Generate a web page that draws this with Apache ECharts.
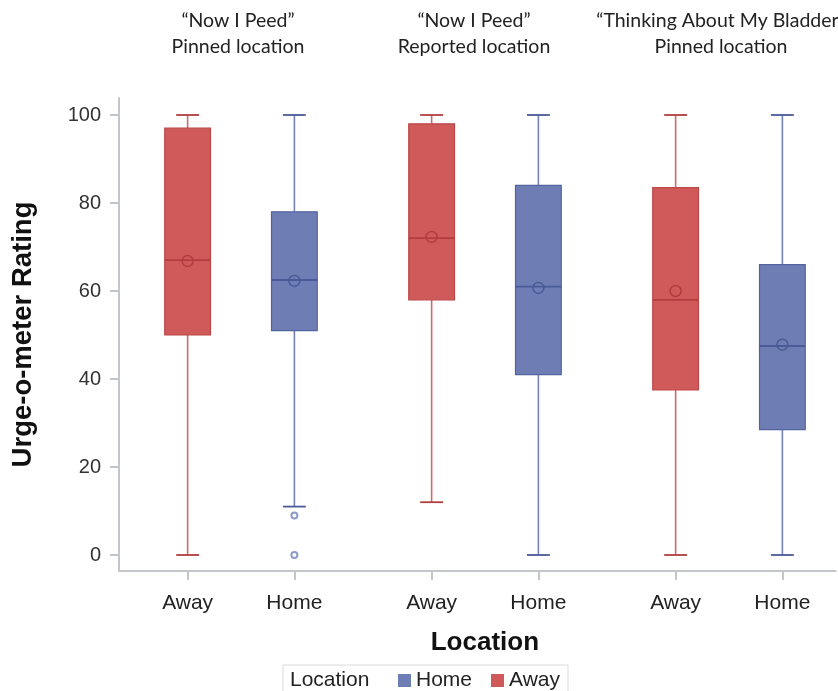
<!DOCTYPE html>
<html><head><meta charset="utf-8">
<script src="https://cdn.jsdelivr.net/npm/echarts@6/dist/echarts.min.js"></script>
<style>html,body{margin:0;padding:0;background:#fff}#c{width:838px;height:691px}</style>
</head><body><div id="c"></div>
<script>
// ---------------- data ----------------
const categories = ['Away', 'Home', 'Away', 'Home', 'Away', 'Home'];
const locations = ['Away', 'Home', 'Away', 'Home', 'Away', 'Home'];
const groupLine1 = ['\u201CNow I Peed\u201D', '\u201CNow I Peed\u201D', '\u201CThinking About My Bladder\u201D'];
const groupLine2 = ['Pinned location', 'Reported location', 'Pinned location'];
const mins = [0, 11, 12, 0, 0, 0];
const q1s = [50, 51, 58, 41, 37.5, 28.5];
const medians = [67, 62.5, 72, 61, 58, 47.5];
const q3s = [97, 78, 98, 84, 83.5, 66];
const maxs = [100, 100, 100, 100, 100, 100];
const means = [66.8, 62.3, 72.3, 60.7, 60, 47.8];
const outlierBox = [1, 1];
const outlierValues = [9, 0];
const yTicks = [0, 20, 40, 60, 80, 100];
const legendNames = ['Home', 'Away'];

// ---------------- layout (not data) ----------------
const SLOTS = 47;
const boxSlots = [4, 11, 20, 27, 36, 43];
const headerX = [238, 474, 721];
const slotNames = Array.from({length: SLOTS}, (_, i) => 's' + i);
const slotLabel = {};
boxSlots.forEach((s, i) => { slotLabel[s] = categories[i]; });

const styles = {
  Away: {fill: '#D05A5A', border: '#BC4747', whisker: '#CF6A6A', median: '#B03E3E'},
  Home: {fill: '#6E7EB4', border: '#53639E', whisker: '#7282BC', median: '#4A5A96'}
};
const AXIS = '#C3C6CA';
const FONT = 'Liberation Sans, Arial, sans-serif';

function boxData(loc) {
  const out = [];
  locations.forEach((l, i) => {
    if (l === loc) out.push([boxSlots[i], mins[i], q1s[i], medians[i], q3s[i], maxs[i], means[i]]);
  });
  return out;
}

function makeRender(loc) {
  const st = styles[loc];
  return function (params, api) {
    const x = api.value(0);
    const pMin = api.coord([x, api.value(1)]);
    const pQ1 = api.coord([x, api.value(2)]);
    const pMed = api.coord([x, api.value(3)]);
    const pQ3 = api.coord([x, api.value(4)]);
    const pMax = api.coord([x, api.value(5)]);
    const pMean = api.coord([x, api.value(6)]);
    const w = api.size([1, 0])[0] * 3;
    const half = w / 2, cap = w / 4;
    const cx = pMed[0];
    const wStyle = {stroke: st.whisker, lineWidth: 1.6};
    return {
      type: 'group',
      children: [
        {type: 'line', shape: {x1: cx, y1: pMax[1], x2: cx, y2: pQ3[1]}, style: wStyle},
        {type: 'line', shape: {x1: cx, y1: pMin[1], x2: cx, y2: pQ1[1]}, style: wStyle},
        {type: 'line', shape: {x1: cx - cap, y1: pMax[1], x2: cx + cap, y2: pMax[1]}, style: {stroke: st.median, lineWidth: 1.8}},
        {type: 'line', shape: {x1: cx - cap, y1: pMin[1], x2: cx + cap, y2: pMin[1]}, style: {stroke: st.median, lineWidth: 1.8}},
        {type: 'rect', shape: {x: cx - half, y: pQ3[1], width: w, height: pQ1[1] - pQ3[1]},
          style: {fill: st.fill, stroke: st.border, lineWidth: 1.2}},
        {type: 'line', shape: {x1: cx - half, y1: pMed[1], x2: cx + half, y2: pMed[1]}, style: {stroke: st.median, lineWidth: 1.8}},
        {type: 'circle', shape: {cx: cx, cy: pMean[1], r: 5.5}, style: {fill: 'none', stroke: st.median, lineWidth: 1.5}}
      ]
    };
  };
}

const chart = echarts.init(document.getElementById('c'), null, {renderer: 'canvas'});

const graphics = [];
groupLine1.forEach((t, i) => {
  graphics.push({type: 'text', x: headerX[i], y: 21, style: {text: t, fill: '#222', font: '19.5px Lato, sans-serif', textAlign: 'center', textVerticalAlign: 'middle'}});
  graphics.push({type: 'text', x: headerX[i], y: 47, style: {text: groupLine2[i], fill: '#222', font: '19.5px Lato, sans-serif', textAlign: 'center', textVerticalAlign: 'middle'}});
});
graphics.push({type: 'text', x: 290, y: 680, style: {text: 'Location', fill: '#222', font: '21px ' + FONT, textAlign: 'left', textVerticalAlign: 'middle'}});

chart.setOption({
  animation: false,
  backgroundColor: '#fff',
  grid: [
    {left: 119, right: 2.25, top: 115, bottom: 136},
    {left: 119, right: 2.25, top: 98, bottom: 120}
  ],
  xAxis: [
    {type: 'category', gridIndex: 0, data: slotNames, boundaryGap: true, show: false},
    {type: 'category', gridIndex: 1, data: slotNames, boundaryGap: true,
      axisLine: {show: true, onZero: false, lineStyle: {color: AXIS, width: 2}},
      axisTick: {show: true, alignWithLabel: true, length: 9, interval: (i) => slotLabel[i] !== undefined, lineStyle: {color: AXIS, width: 2}},
      axisLabel: {interval: (i) => slotLabel[i] !== undefined, formatter: (v, i) => slotLabel[i] || '', fontSize: 21, color: '#222', fontFamily: FONT, margin: 22},
      name: 'Location', nameLocation: 'middle', nameGap: 59,
      nameTextStyle: {fontSize: 26, fontWeight: 'bold', color: '#111', fontFamily: FONT, padding: [0, 0, 0, 15]}
    }
  ],
  yAxis: [
    {type: 'value', gridIndex: 0, min: 0, max: 100, interval: 20,
      axisLine: {show: false}, splitLine: {show: false},
      axisTick: {show: true, length: 9, lineStyle: {color: AXIS, width: 2}},
      axisLabel: {fontSize: 20, color: '#333', fontFamily: FONT, margin: 18,
        formatter: (v) => yTicks.indexOf(v) >= 0 ? String(v) : ''}
    },
    {type: 'value', gridIndex: 1, min: 0, max: 1,
      axisLine: {show: true, lineStyle: {color: AXIS, width: 2}},
      axisTick: {show: false}, axisLabel: {show: false}, splitLine: {show: false},
      name: 'Urge-o-meter Rating', nameLocation: 'middle', nameGap: 82,
      nameTextStyle: {fontSize: 27.5, fontWeight: 'bold', color: '#111', fontFamily: FONT, padding: [0, 0, 0, 0]}
    }
  ],
  legend: {
    data: legendNames.map(n => ({name: n, icon: 'rect'})),
    left: 283, top: 665, orient: 'horizontal',
    padding: [5, 8, 6, 115], itemGap: 19, itemWidth: 13, itemHeight: 13,
    borderColor: '#DADADA', borderWidth: 1,
    textStyle: {fontSize: 21, color: '#222', fontFamily: FONT},
    selectedMode: false
  },
  graphic: graphics,
  series: [
    {name: 'Away', type: 'custom', xAxisIndex: 0, yAxisIndex: 0, renderItem: makeRender('Away'),
      itemStyle: {color: styles.Away.fill, borderColor: styles.Away.border}, data: boxData('Away'), encode: {x: 0, y: [1, 2, 3, 4, 5]}},
    {name: 'Home', type: 'custom', xAxisIndex: 0, yAxisIndex: 0, renderItem: makeRender('Home'),
      itemStyle: {color: styles.Home.fill, borderColor: styles.Home.border}, data: boxData('Home'), encode: {x: 0, y: [1, 2, 3, 4, 5]}},
    {name: 'Home outliers', type: 'scatter', xAxisIndex: 0, yAxisIndex: 0, symbol: 'emptyCircle', symbolSize: 6,
      itemStyle: {color: styles.Home.whisker, borderWidth: 1.5},
      data: outlierBox.map((b, i) => [boxSlots[b], outlierValues[i]])}
  ]
});
</script></body></html>
